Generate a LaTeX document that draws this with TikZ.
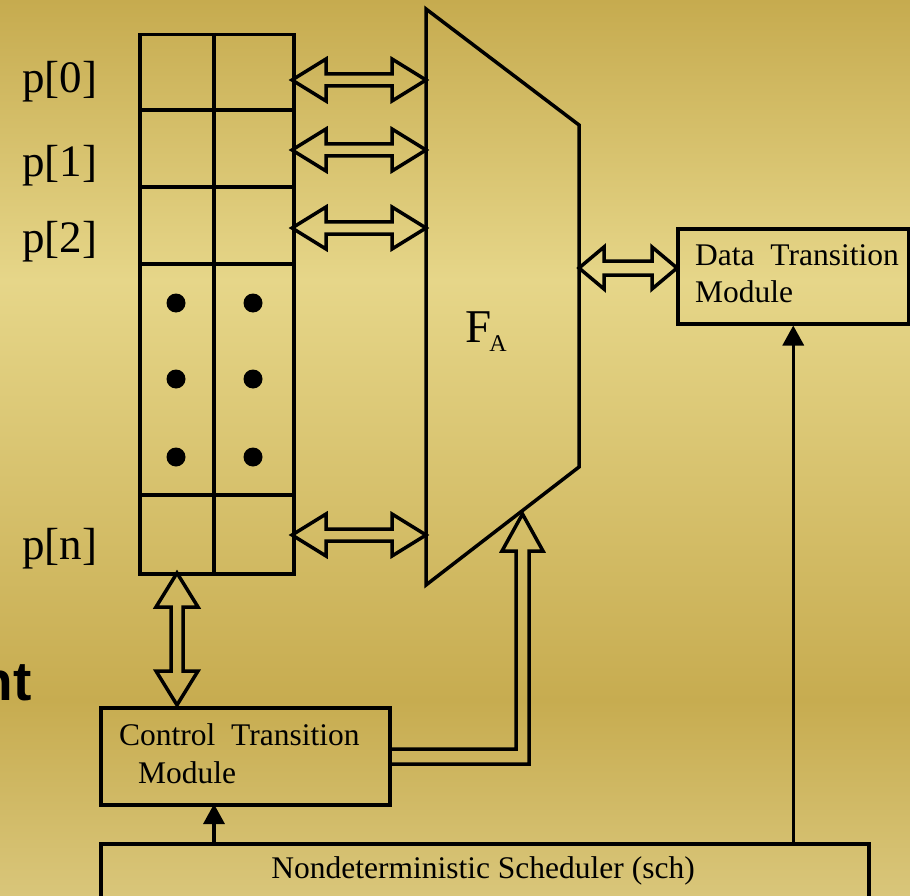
\documentclass[tikz,border=0pt]{standalone}
\usepackage{fontspec}
\setmainfont{Liberation Serif}
\newfontfamily\hvb{Liberation Sans}
\usetikzlibrary{arrows.meta,calc}
\definecolor{bgA}{RGB}{198,171,79}
\definecolor{bgB}{RGB}{230,214,137}
\definecolor{bgC}{RGB}{199,172,80}
\definecolor{bgD}{RGB}{217,198,122}
% horizontal hollow double arrow: left tip, right tip, head length, head half width, shaft half width
\newcommand{\hdbl}[5]{%
 \draw[outl] let \p1=#1, \p2=#2 in (\x1,\y1) -- (\x1+#3,\y1+#4) -- (\x1+#3,\y1+#5) -- (\x2-#3,\y1+#5) -- (\x2-#3,\y1+#4) -- (\x2,\y1) -- (\x2-#3,\y1-#4) -- (\x2-#3,\y1-#5) -- (\x1+#3,\y1-#5) -- (\x1+#3,\y1-#4) -- cycle;}
% vertical hollow double arrow: top tip, bottom tip
\newcommand{\vdbl}[5]{%
 \draw[outl] let \p1=#1, \p2=#2 in (\x1,\y1) -- (\x1+#4,\y1-#3) -- (\x1+#5,\y1-#3) -- (\x1+#5,\y2+#3) -- (\x1+#4,\y2+#3) -- (\x1,\y2) -- (\x1-#4,\y2+#3) -- (\x1-#5,\y2+#3) -- (\x1-#5,\y1-#3) -- (\x1-#4,\y1-#3) -- cycle;}
\begin{document}
\begin{tikzpicture}[x=1pt,y=-1pt,
  outl/.style={draw=black, line width=3.5pt, line join=miter},
  box/.style={draw=black, line width=3.5pt, inner sep=0pt},
  lbl/.style={font=\fontsize{45}{54}\selectfont, anchor=base west, inner sep=0pt},
  btxt/.style={font=\fontsize{31.5}{37}\selectfont, anchor=base west, inner sep=0pt},
  sarrow/.style={draw=black, line width=3.3pt, -{Triangle[length=20pt,width=21pt]}}
]
% background
\shade[top color=bgA,bottom color=bgB] (0,0) rectangle (910,281);
\shade[top color=bgB,bottom color=bgC] (0,280) rectangle (910,701);
\shade[top color=bgC,bottom color=bgD] (0,700) rectangle (910,896);
\useasboundingbox (0,0) rectangle (910,896);

% cut-off title text
\node[font=\hvb\bfseries\fontsize{55}{60}\selectfont, anchor=base east, inner sep=0pt] (nt) at (32,700) {nt};

% register array
\node[box, minimum width=154, minimum height=539, anchor=north west] (reg) at (138,33) {};
\draw[outl] (138,110) -- (292,110);
\draw[outl] (138,187) -- (292,187);
\draw[outl] (138,264) -- (292,264);
\draw[outl] (138,495) -- (292,495);
\draw[outl] (214,33) -- (214,572);
\foreach \yy in {303,379,457} {
  \fill (176,\yy) circle (9.5);
  \fill (253,\yy) circle (9.5);
}
\node[lbl] (p0) at (22,93) {p[0]};
\node[lbl] (p1) at (22,177) {p[1]};
\node[lbl] (p2) at (22,252) {p[2]};
\node[lbl] (pn) at (22,559) {p[n]};

% F_A trapezoid
\coordinate (ftl) at (426,9);
\coordinate (ftr) at (579,125);
\coordinate (fbr) at (579,467);
\coordinate (fbl) at (426,585);
\draw[outl] (ftl) -- (ftr) -- (fbr) -- (fbl) -- cycle;
\node[font=\fontsize{47}{56}\selectfont, anchor=base west, inner sep=0pt] (fa) at (465,342) {F\kern-2pt\raisebox{-9pt}{\fontsize{24}{28}\selectfont A}};

% arrows register <-> F_A
\coordinate (a0l) at (292,80);  \coordinate (a0r) at (426,80);
\coordinate (a1l) at (292,150); \coordinate (a1r) at (426,150);
\coordinate (a2l) at (292,228); \coordinate (a2r) at (426,228);
\coordinate (anl) at (292,535); \coordinate (anr) at (426,535);
\hdbl{(a0l)}{(a0r)}{34pt}{21pt}{6pt}
\hdbl{(a1l)}{(a1r)}{34pt}{21pt}{6pt}
\hdbl{(a2l)}{(a2r)}{34pt}{21pt}{6pt}
\hdbl{(anl)}{(anr)}{34pt}{21pt}{6pt}

% Data Transition Module
\node[box, minimum width=231, minimum height=95, anchor=north west] (dtm) at (676,227) {};
\node[btxt] (dtm1) at (695,265) {Data~~Transition};
\node[btxt] (dtm2) at (695,302) {Module};
\coordinate (dl) at (579,268);
\coordinate (dr) at (677,268);
\hdbl{(dl)}{(dr)}{25pt}{21pt}{7pt}

% Control Transition Module
\node[box, minimum width=289, minimum height=97, anchor=north west] (ctm) at (99,706) {};
\node[btxt] (ctm1) at (119,745) {Control~~Transition};
\node[btxt] (ctm2) at (138,783) {Module};
\coordinate (vt) at (177,573);
\coordinate (vb) at (177,705);
\vdbl{(vt)}{(vb)}{34pt}{21pt}{6pt}

% L-shaped hollow arrow control -> F_A
\draw[outl] (388,749) -- (516,749) -- (516,551) -- (502,551) -- (522.5,514) -- (543,551) -- (529,551) -- (529,764) -- (388,764);

% Scheduler
\node[box, minimum width=768, minimum height=90, anchor=north west] (sch) at (99,842) {};
\node[font=\fontsize{31.5}{37}\selectfont, anchor=base, inner sep=0pt] (scht) at (483,878) {Nondeterministic Scheduler (sch)};
\coordinate (s1) at (214,842);
\coordinate (c1) at (214,804);
\draw[sarrow] (s1) -- (c1);
\draw[sarrow] (dtm.south |- sch.north) -- (dtm.south);
\end{tikzpicture}
\end{document}
